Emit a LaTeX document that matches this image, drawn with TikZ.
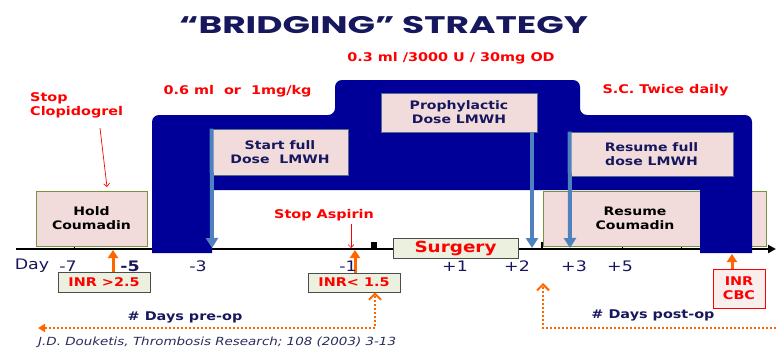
\documentclass[tikz,border=0pt]{standalone}
\usepackage{fontspec}
\setmainfont{DejaVu Sans}[FakeStretch=1.2]
\newfontfamily\titlefont{Poppins}[FakeStretch=1.5]
\usetikzlibrary{arrows.meta}
\definecolor{band}{RGB}{0,0,153}
\definecolor{navy}{RGB}{23,23,94}
\definecolor{pinkf}{RGB}{242,220,219}
\definecolor{palef}{RGB}{235,241,222}
\definecolor{steel}{RGB}{79,129,189}
\definecolor{orng}{RGB}{255,102,0}
\definecolor{grnb}{RGB}{119,147,60}
\definecolor{boxb}{RGB}{80,110,140}
\definecolor{inrc}{RGB}{248,238,236}
\definecolor{citec}{RGB}{40,45,90}
\begin{document}
\begin{tikzpicture}[x=1pt,y=-1pt,
  lab/.style={font=\bfseries\fontsize{11.7}{14}\selectfont, text=navy, align=center, inner sep=0pt},
  blab/.style={font=\bfseries\fontsize{11.7}{14}\selectfont, text=black, align=center, inner sep=0pt},
  redlab/.style={font=\bfseries\fontsize{12}{14}\selectfont, text=red, align=center, inner sep=0pt},
  daylab/.style={font=\fontsize{14.5}{16}\selectfont, text=navy, inner sep=0pt},
  pbox/.style={draw=boxb, line width=0.8pt, fill=pinkf, inner sep=0pt},
  cbox/.style={draw=grnb, line width=0.8pt, fill=pinkf, inner sep=0pt},
  sbox/.style={draw=black!70, line width=0.8pt, fill=palef, inner sep=0pt},
  steelarr/.style={draw=steel, line width=4pt, -{Triangle[width=12pt,length=10pt]}},
  orarr/.style={draw=orng, line width=3pt, -{Triangle[width=10pt,length=8pt]}},
  odot/.style={draw=orng, line width=2pt, dash pattern=on 2pt off 2pt},
  redarr/.style={draw=red, line width=0.7pt, -{Straight Barb[width=6pt,length=3pt]}}
]
\useasboundingbox (0,0) rectangle (776,351);

% title
\node[font=\titlefont\bfseries\fontsize{24}{28}\selectfont, text=navy, inner sep=0pt] (title) at (383.5,25) {“BRIDGING” STRATEGY};

% axis
\coordinate (axL) at (16,249);
\coordinate (axR) at (776,249);
\draw[line width=2pt, -{Triangle[width=8pt,length=8pt]}] (axL) -- (axR);
\draw[line width=1pt] (74,245) -- (74,249);
\draw[line width=1pt] (622,245) -- (622,249);
\draw[line width=1pt] (681,245) -- (681,249);
\draw[line width=1pt] (747,245) -- (747,249);

% boxes under the band
\node[cbox, minimum width=223pt, minimum height=55pt] (rc) at (654.5,218.5) {};
\node[blab] (rct) at (635,218) {Resume\\Coumadin};
\node[cbox, minimum width=111pt, minimum height=55pt, blab] (hold) at (91.5,218.5) {Hold\\Coumadin};

% band
\fill[band] (152,253) [rounded corners=7pt] -- (152,115) -- (335,115) -- (335,80) -- (580,80) -- (580,115) -- (752,115) -- (752,200) [sharp corners] -- (752,253) -- (700,253) -- (700,190) -- (212,190) -- (212,253) -- cycle;

% boxes on the band
\node[pbox, minimum width=136pt, minimum height=46pt, lab] (sf) at (280,152) {Start full\\Dose~~LMWH};
\node[pbox, minimum width=156pt, minimum height=39pt, lab] (pd) at (459,112.5) {Prophylactic\\Dose LMWH};
\node[pbox, minimum width=163pt, minimum height=44pt, lab] (rf) at (651.5,154) {Resume full\\dose LMWH};

% surgery
\fill[black] (371,242) rectangle (377,249);
\draw[line width=2pt] (542,242) -- (542,249);
\node[sbox, minimum width=125pt, minimum height=20pt, font=\bfseries\fontsize{15.3}{16}\selectfont, text=red] (surg) at (455.5,248) {Surgery};

% blue arrows
\coordinate (b1) at (212,248);
\coordinate (b2) at (532,248);
\coordinate (b3) at (570,248);
\draw[steelarr] (sf.north west) -- (b1);
\draw[steelarr] (b2 |- pd.south) -- (b2);
\draw[steelarr] (rf.north west) -- (b3);

% INR boxes
\node[sbox, minimum width=92pt, minimum height=20pt, redlab] (inr1) at (104,282) {INR >2.5};
\node[sbox, minimum width=92pt, minimum height=19pt, redlab] (inr2) at (354,282.5) {INR< 1.5};
\node[draw=red, line width=0.8pt, fill=inrc, minimum width=52pt, minimum height=39pt, redlab] (inr3) at (739,288.5) {INR\\CBC};

% orange arrows
\coordinate (o1) at (113,250);
\coordinate (o2) at (355,250);
\coordinate (o3) at (732,254);
\draw[orarr] (o1 |- inr1.north) -- (o1);
\draw[orarr] (o2 |- inr2.north) -- (o2);
\draw[orarr] (o3 |- inr3.north) -- (o3);

% dotted arrows
\coordinate (pl) at (38,328);
\coordinate (pc) at (375,328);
\draw[odot, {Triangle[width=8pt,length=7pt]}-{Straight Barb[width=12pt,length=6pt]}] (pl) -- (pc) -- (pc |- inr2.south);
\coordinate (pr0) at (543,283);
\coordinate (prc) at (543,328);
\coordinate (prr) at (776,328);
\draw[odot, -{Straight Barb[width=12pt,length=6pt]}] (prr) -- (prc) -- (pr0);
\node[lab, font=\bfseries\fontsize{12}{14}\selectfont] (pre) at (185,317) {\# Days pre-op};
\node[lab, font=\bfseries\fontsize{12}{14}\selectfont] (post) at (653,315) {\# Days post-op};

% day labels
\node[daylab] (dday) at (32,266) {Day};
\node[daylab] (dm7) at (68,266) {-7};
\node[daylab, font=\bfseries\fontsize{14.5}{16}\selectfont] (dm5) at (130,266) {-5};
\node[daylab] (dm3) at (198,266) {-3};
\node[daylab] (dm1) at (348,266) {-1};
\node[daylab] (dp1) at (455,266) {+1};
\node[daylab] (dp2) at (517,266) {+2};
\node[daylab] (dp3) at (574,266) {+3};
\node[daylab] (dp5) at (620,266) {+5};

% red labels
\node[redlab, align=left, anchor=west] (stopc) at (30,105) {Stop\\Clopidogrel};
\coordinate (c0) at (100,128);
\coordinate (c1) at (107,187);
\draw[redarr] (c0) -- (c1);
\node[redlab] (stopa) at (324,215) {Stop Aspirin};
\coordinate (a0) at (351,224);
\coordinate (a1) at (351,248);
\draw[redarr] (a0) -- (a1);
\node[redlab] (dose1) at (237.5,91) {0.6 ml~~or~~1mg/kg};
\node[redlab] (dose2) at (451,58) {0.3 ml /3000 U / 30mg OD};
\node[redlab] (sc) at (665.5,90) {S.C. Twice daily};

% citation
\node[anchor=west, inner sep=0pt, font=\itshape\fontsize{11.2}{13}\selectfont, text=citec] (cite) at (38,342) {J.D. Douketis, Thrombosis Research; 108 (2003) 3-13};
\end{tikzpicture}
\end{document}
